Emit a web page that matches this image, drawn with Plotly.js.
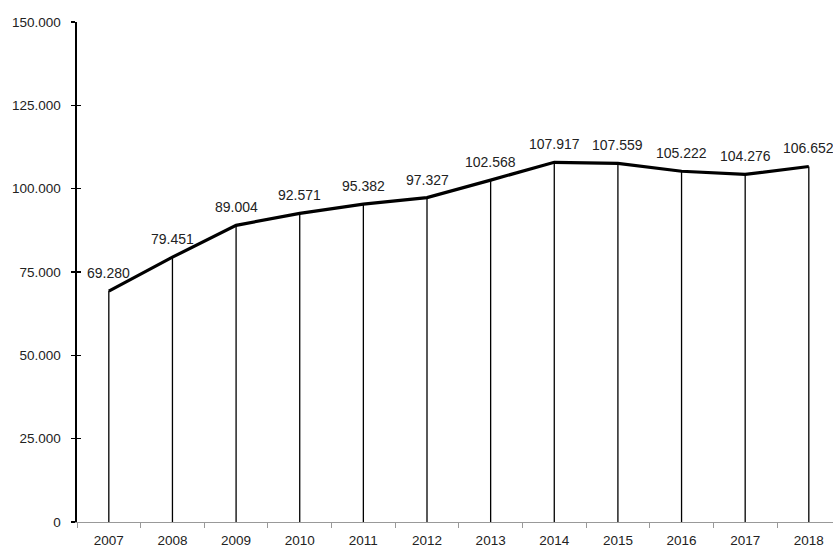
<!DOCTYPE html>
<html>
<head>
<meta charset="utf-8">
<script src="https://cdn.plot.ly/plotly-3.0.1.min.js"></script>
<style>html,body{margin:0;padding:0;background:#fff;}</style>
</head>
<body>
<div id="chart" style="width:833px;height:549px;"></div>
<script>
var years = ["2007","2008","2009","2010","2011","2012","2013","2014","2015","2016","2017","2018"];
var values = [69280, 79451, 89004, 92571, 95382, 97327, 102568, 107917, 107559, 105222, 104276, 106652];
var yTicks = [0, 25000, 50000, 75000, 100000, 125000, 150000];

var tickFont = {family: "Liberation Sans, Arial, sans-serif", size: 13.5, color: "#222"};
var labelFont = {family: "Liberation Sans, Arial, sans-serif", size: 14, color: "#222"};

var trace = {
  x: years,
  y: values,
  type: "scatter",
  mode: "lines",
  line: {color: "#000", width: 3.2},
  cliponaxis: false,
  error_y: {
    type: "data",
    symmetric: false,
    array: values.map(function(){return 0;}),
    arrayminus: values,
    color: "#000",
    thickness: 1.3,
    width: 0
  },
  hoverinfo: "skip",
  showlegend: false
};

var tickTrace = {
  x: [years[0]], y: [0], xaxis: "x", yaxis: "y2",
  type: "scatter", mode: "markers", marker: {opacity: 0}, showlegend: false, hoverinfo: "skip"
};

function fmt(v) {
  return String(v).replace(/\B(?=(\d{3})+(?!\d))/g, ".");
}

var annotations = years.map(function(yr, i) {
  return {
    x: i, y: values[i], xref: "x", yref: "y",
    text: fmt(values[i]),
    showarrow: false,
    xanchor: "center", yanchor: "middle",
    yshift: 18,
    font: labelFont
  };
});

var layout = {
  width: 833, height: 549,
  margin: {l: 77, r: 0, t: 22, b: 27, pad: 0},
  separators: ",.",
  paper_bgcolor: "#fff",
  plot_bgcolor: "#fff",
  font: tickFont,
  showlegend: false,
  annotations: annotations,
  xaxis: {
    type: "category",
    range: [-0.5, 11.38],
    tickson: "boundaries",
    ticks: "outside",
    ticklen: 5,
    tickwidth: 1,
    tickcolor: "#999",
    showline: true,
    linecolor: "#999",
    linewidth: 1.3,
    showgrid: false,
    zeroline: false,
    tickfont: tickFont,
    ticklabelstandoff: 5
  },
  yaxis: {
    range: [0, 150000],
    tickvals: yTicks,
    tickformat: ",d",
    ticks: "outside",
    ticklen: 4,
    tickwidth: 1.5,
    tickcolor: "#000",
    showline: true,
    linecolor: "#000",
    linewidth: 1.6,
    showgrid: false,
    zeroline: false,
    tickfont: tickFont,
    ticklabelstandoff: 8
  },
  yaxis2: {
    overlaying: "y",
    range: [0, 150000],
    tickvals: yTicks,
    ticks: "inside",
    ticklen: 4,
    tickwidth: 1.5,
    tickcolor: "#000",
    showticklabels: false,
    showline: false,
    showgrid: false,
    zeroline: false
  }
};

Plotly.newPlot("chart", [trace, tickTrace], layout, {displayModeBar: false, staticPlot: true});
</script>
</body>
</html>
